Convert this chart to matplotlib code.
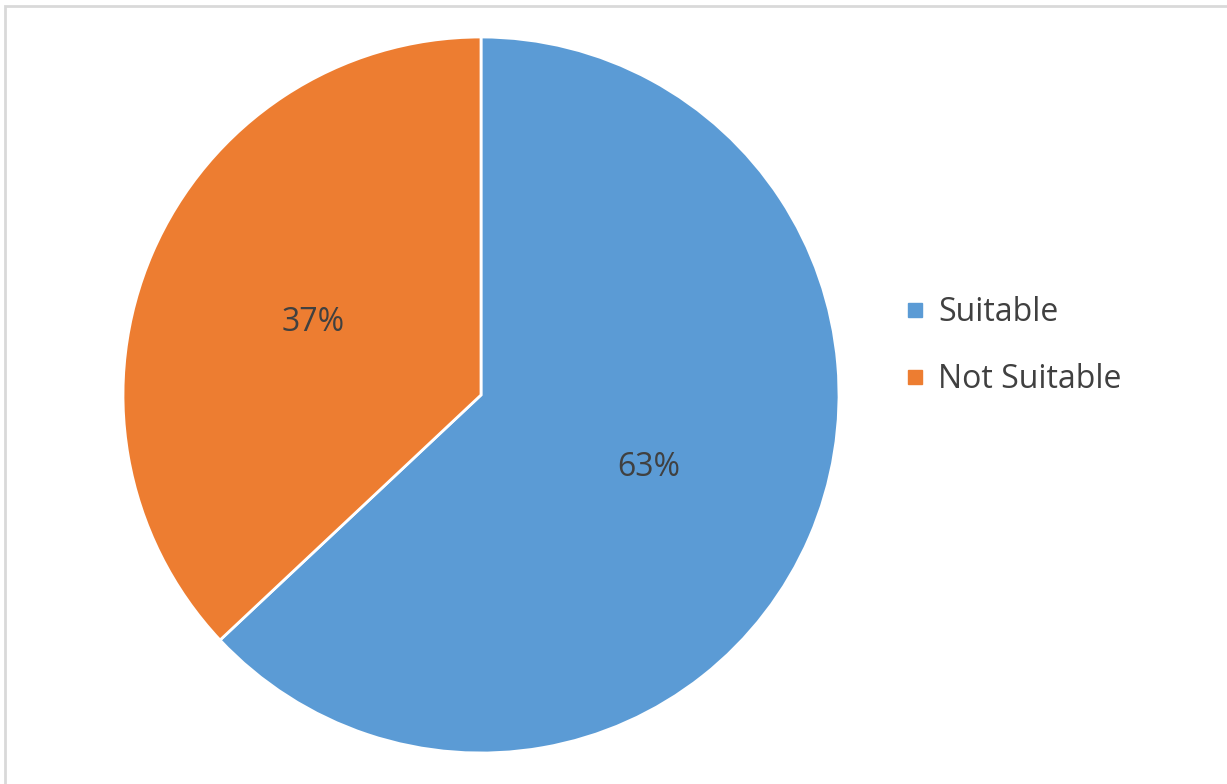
import matplotlib.pyplot as plt
from matplotlib.patches import Rectangle
from matplotlib.lines import Line2D

labels = ['Suitable', 'Not Suitable']
shares = [63, 37]
colors = ['#5B9BD5', '#ED7D31']

plt.rcParams['font.family'] = ['Open Sans', 'DejaVu Sans']

fig = plt.figure(figsize=(12.27, 7.84), dpi=100)

# light frame like the original chart area
fig.patches.append(Rectangle((5 / 1227, -0.01), 1.02, 1 - 5.5 / 784 + 0.01,
                             transform=fig.transFigure, fill=False,
                             edgecolor='#D9D9D9', linewidth=2))

# pie centre (481, 395) px, radius ~358 px
cx, cy, r = 481 / 1227, 1 - 395 / 784, 358
ax = fig.add_axes([cx - r / 1227, cy - r / 784, 2 * r / 1227, 2 * r / 784])
wedges, texts, autotexts = ax.pie(
    shares, colors=colors, startangle=90, counterclock=False,
    autopct='%d%%', pctdistance=0.51,
    wedgeprops=dict(edgecolor='white', linewidth=2),
    textprops=dict(color='#404040', fontsize=23))
ax.set_aspect('equal')
ax.set_xlim(-1, 1)
ax.set_ylim(-1, 1)

# square legend keys
handles = [Line2D([], [], marker='s', linestyle='none', markersize=9.5,
                  markerfacecolor=c, markeredgecolor=c) for c in colors]
fig.legend(handles, labels, loc='center left',
           bbox_to_anchor=(908 / 1227, 1 - 346 / 784), frameon=False,
           borderpad=0, borderaxespad=0,
           fontsize=23, handlelength=0.45,
           handletextpad=0.5, labelspacing=1.08, labelcolor='#404040')

fig.savefig('out.png', dpi=100)
